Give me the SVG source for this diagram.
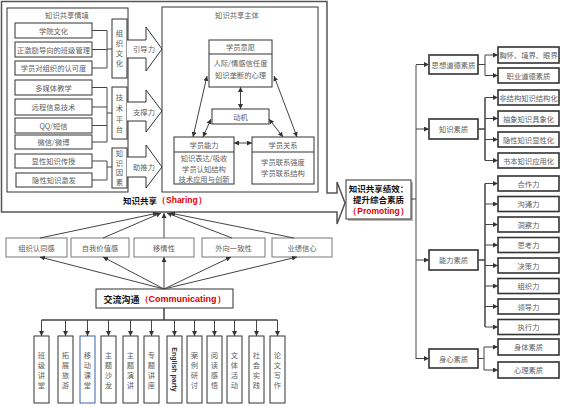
<svg xmlns="http://www.w3.org/2000/svg" width="562" height="407" viewBox="0 0 562 407">
<style>
text{font-family:"Noto Sans CJK SC","Liberation Serif",serif;font-size:7.3px;fill:#606060;text-anchor:middle;dominant-baseline:central}
.b{fill:#fff;stroke:#333;stroke-width:1}
.g{fill:#fff;stroke:#777;stroke-width:1}
.t{fill:#fff;stroke:#333;stroke-width:1.6}
.c{fill:none;stroke:#444;stroke-width:1}
.bold{font-weight:bold;fill:#111;font-size:8.5px}
.red{fill:#e00000;font-family:"Liberation Sans",sans-serif;font-weight:bold}
</style>
<defs>
<marker id="ah" viewBox="0 0 10 10" refX="10" refY="5" markerWidth="5" markerHeight="5" orient="auto-start-reverse"><path d="M0,0 L10,5 L0,10 z" fill="#333"/></marker>
</defs>
<rect width="562" height="407" fill="#fff"/>

<g id="sharing">
<path d="M1.5,1.5 H327 V193 H337 V182 L345,203 L337,224 V212 H1.5 Z" fill="#fff" stroke="#555" stroke-width="1.5"/>
<text x="123" y="200" class="bold" style="text-anchor:start">知识共享<tspan class="red">（Sharing）</tspan></text>
</g>

<g id="situation">
<rect x="7" y="8" width="121" height="184" class="b"/>
<text x="67" y="15">知识共享情境</text>
</g>
<g id="items">
<rect x="15" y="23" width="77" height="15" class="b"/><text x="53.5" y="30.5">学院文化</text>
<rect x="15" y="42" width="77" height="15" class="b"/><text x="53.5" y="49.5">正激励导向的班级管理</text>
<rect x="15" y="61" width="77" height="14" class="b"/><text x="53.5" y="68">学员对组织的认可度</text>
<rect x="15" y="80" width="77" height="15" class="b"/><text x="53.5" y="87.5">多媒体教学</text>
<rect x="15" y="99" width="77" height="16" class="b"/><text x="53.5" y="107">远程信息技术</text>
<rect x="15" y="118" width="77" height="15" class="b"/><text x="53.5" y="125.5">QQ/短信</text>
<rect x="15" y="135" width="77" height="14" class="b"/><text x="53.5" y="142">微信/微博</text>
<rect x="15" y="154" width="77" height="14" class="b"/><text x="53.5" y="161">显性知识传授</text>
<rect x="16" y="173" width="76" height="14" class="b"/><text x="54" y="180">隐性知识激发</text>
</g>
<g id="vboxes">
<rect x="112" y="19" width="15" height="59" class="b"/>
<text x="119.5" y="33">组</text><text x="119.5" y="43">织</text><text x="119.5" y="53">文</text><text x="119.5" y="63">化</text>
<rect x="112" y="87" width="15" height="52" class="b"/>
<text x="119.5" y="97">技</text><text x="119.5" y="108">术</text><text x="119.5" y="119">平</text><text x="119.5" y="129">台</text>
<rect x="112" y="148" width="15" height="40" class="b"/>
<text x="119.5" y="153">知</text><text x="119.5" y="162.5">识</text><text x="119.5" y="172">因</text><text x="119.5" y="181.5">素</text>
</g>
<g id="bigarrows">
<path d="M127,40 H146 V27 L162,49 L146,71 V58 H127" class="b"/>
<text x="144" y="49">引导力</text>
<path d="M127,102 H146 V90 L162,111 L146,132 V121 H127" class="b"/>
<text x="144" y="111.5">支撑力</text>
<path d="M127,157 H146 V145 L162,167 L146,188 V177 H127" class="b"/>
<text x="144" y="167">助推力</text>
</g>

<g id="subject">
<rect x="162" y="7" width="156" height="185" class="b"/>
<text x="237" y="15">知识共享主体</text>
</g>
<g id="willing">
<rect x="209" y="40" width="63" height="47" class="b"/>
<line x1="209" y1="54" x2="272" y2="54" stroke="#333"/>
<text x="240.5" y="47">学员意愿</text>
<text x="240.5" y="63">人际/情感信任度</text>
<text x="240.5" y="75">知识垄断的心理</text>
</g>
<g id="motive">
<rect x="212" y="109" width="57" height="15" class="b"/>
<text x="240.5" y="116.5">动机</text>
</g>
<g id="ability">
<rect x="174" y="137" width="60" height="47" class="b"/>
<line x1="174" y1="152" x2="234" y2="152" stroke="#333"/>
<text x="204" y="144.5">学员能力</text>
<text x="204" y="157.5">知识表达/吸收</text>
<text x="204" y="168.5">学员认知结构</text>
<text x="204" y="179">技术应用与创新</text>
</g>
<g id="relation">
<rect x="252" y="137" width="62" height="47" class="b"/>
<line x1="252" y1="152" x2="314" y2="152" stroke="#333"/>
<text x="283" y="144.5">学员关系</text>
<text x="283" y="162">学员联系强度</text>
<text x="283" y="172.5">学员联系结构</text>
</g>

<g id="promoting">
<rect x="348" y="182" width="65" height="39" fill="#bbb"/>
<rect x="346" y="180" width="65" height="39" class="b"/>
<text x="378.5" y="188" class="bold">知识共享绩效：</text>
<text x="378.5" y="199" class="bold">提升综合素质</text>
<text x="378.5" y="211" class="red" style="font-size:8.5px">（Promoting）</text>
</g>

<g id="tree-l1">
<rect x="429" y="55" width="49" height="19" class="t"/><text x="453.5" y="64.5">思想道德素质</text>
<rect x="429" y="119" width="49" height="20" class="t"/><text x="453.5" y="129">知识素质</text>
<rect x="429" y="250" width="49" height="20" class="t"/><text x="453.5" y="260">能力素质</text>
<rect x="429" y="349" width="49" height="19" class="t"/><text x="453.5" y="358.5">身心素质</text>
</g>
<g id="tree-l2">
<rect x="498" y="47" width="61" height="16" class="t"/><text x="528.5" y="55">胸怀、境界、眼界</text>
<rect x="498" y="68" width="61" height="15" class="t"/><text x="528.5" y="75.5">职业道德素质</text>
<rect x="498" y="90" width="61" height="15" class="t"/><text x="528.5" y="97.5">非结构知识结构化</text>
<rect x="498" y="111" width="61" height="15" class="t"/><text x="528.5" y="118.5">抽象知识具象化</text>
<rect x="498" y="132" width="61" height="15" class="t"/><text x="528.5" y="139.5">隐性知识显性化</text>
<rect x="498" y="153" width="61" height="15" class="t"/><text x="528.5" y="160.5">书本知识应用化</text>
<rect x="498" y="176" width="61" height="15" class="t"/><text x="528.5" y="183.5">合作力</text>
<rect x="498" y="196.5" width="61" height="15" class="t"/><text x="528.5" y="204">沟通力</text>
<rect x="498" y="217" width="61" height="15" class="t"/><text x="528.5" y="224.5">洞察力</text>
<rect x="498" y="237.5" width="61" height="15" class="t"/><text x="528.5" y="245">思考力</text>
<rect x="498" y="258" width="61" height="15" class="t"/><text x="528.5" y="265.5">决策力</text>
<rect x="498" y="278.5" width="61" height="15" class="t"/><text x="528.5" y="286">组织力</text>
<rect x="498" y="299" width="61" height="15" class="t"/><text x="528.5" y="306.5">领导力</text>
<rect x="498" y="319.5" width="61" height="15" class="t"/><text x="528.5" y="327">执行力</text>
<rect x="498" y="339" width="61" height="16" class="t"/><text x="528.5" y="347">身体素质</text>
<rect x="498" y="362" width="61" height="16" class="t"/><text x="528.5" y="370">心理素质</text>
</g>

<g id="band">
<rect x="6" y="238" width="61" height="19" class="g"/><text x="36.5" y="247.5">组织认同感</text>
<rect x="71" y="238" width="58" height="19" class="g"/><text x="100" y="247.5">自我价值感</text>
<rect x="134" y="238" width="60" height="19" class="g"/><text x="164" y="247.5">移情性</text>
<rect x="202" y="238" width="63" height="19" class="g"/><text x="233.5" y="247.5">外向一致性</text>
<rect x="272" y="238" width="60" height="19" class="g"/><text x="302" y="247.5">业绩信心</text>
</g>
<g id="communicating">
<rect x="96" y="289" width="137" height="19" class="b"/>
<text x="164.5" y="299" class="bold" style="font-size:9px">交流沟通<tspan class="red" style="font-size:9px">（Communicating）</tspan></text>
</g>

<g id="activities">
<rect x="34" y="336" width="15" height="67" class="b"/><text x="41.5" y="355">班</text><text x="41.5" y="365">级</text><text x="41.5" y="375">讲</text><text x="41.5" y="385">堂</text>
<rect x="58" y="336" width="15" height="67" class="b"/><text x="65.5" y="355">拓</text><text x="65.5" y="365">展</text><text x="65.5" y="375">旅</text><text x="65.5" y="385">游</text>
<rect x="80" y="336" width="15" height="67" fill="#fff" stroke="#3a62a8" stroke-width="1"/><text x="87.5" y="355">移</text><text x="87.5" y="365">动</text><text x="87.5" y="375">课</text><text x="87.5" y="385">堂</text>
<rect x="101" y="336" width="15" height="67" class="b"/><text x="108.5" y="355">主</text><text x="108.5" y="365">题</text><text x="108.5" y="375">沙</text><text x="108.5" y="385">龙</text>
<rect x="123" y="336" width="15" height="67" class="b"/><text x="130.5" y="355">主</text><text x="130.5" y="365">题</text><text x="130.5" y="375">演</text><text x="130.5" y="385">讲</text>
<rect x="144" y="336" width="15" height="67" class="b"/><text x="151.5" y="355">专</text><text x="151.5" y="365">题</text><text x="151.5" y="375">讲</text><text x="151.5" y="385">座</text>
<rect x="167" y="336" width="15" height="67" class="b"/><text x="0" y="0" transform="translate(174.5,369.5) rotate(90)" style="font-family:'Liberation Sans',sans-serif;font-weight:bold;font-size:7px;fill:#333">English party</text>
<rect x="187" y="336" width="15" height="67" class="b"/><text x="194.5" y="355">案</text><text x="194.5" y="365">例</text><text x="194.5" y="375">研</text><text x="194.5" y="385">讨</text>
<rect x="207" y="336" width="15" height="67" class="b"/><text x="214.5" y="355">阅</text><text x="214.5" y="365">读</text><text x="214.5" y="375">感</text><text x="214.5" y="385">悟</text>
<rect x="227" y="336" width="15" height="67" class="b"/><text x="234.5" y="355">文</text><text x="234.5" y="365">体</text><text x="234.5" y="375">活</text><text x="234.5" y="385">动</text>
<rect x="249" y="336" width="15" height="67" class="b"/><text x="256.5" y="355">社</text><text x="256.5" y="365">会</text><text x="256.5" y="375">实</text><text x="256.5" y="385">践</text>
<rect x="270" y="336" width="15" height="67" class="b"/><text x="277.5" y="355">论</text><text x="277.5" y="365">文</text><text x="277.5" y="375">写</text><text x="277.5" y="385">作</text>
</g>

<g id="connectors" class="c" fill="none" stroke="#444">
<path d="M92,30.5 H107 M92,49.5 H107 M92,68 H107 M107,30.5 V68 M107,49 H112"/>
<path d="M92,87.5 H107 M92,107 H107 M92,125.5 H107 M92,142 H107 M107,87.5 V142 M107,113 H112"/>
<path d="M92,161 H107 M92,180 H107 M107,161 V180 M107,167 H112"/>
<line x1="240.5" y1="87" x2="240.5" y2="109" marker-start="url(#ah)" marker-end="url(#ah)"/>
<line x1="193" y1="137" x2="207" y2="76" marker-start="url(#ah)" marker-end="url(#ah)"/>
<line x1="297" y1="137" x2="274" y2="76" marker-start="url(#ah)" marker-end="url(#ah)"/>
<line x1="211" y1="119" x2="203" y2="137" marker-start="url(#ah)" marker-end="url(#ah)"/>
<line x1="269" y1="119" x2="283" y2="137" marker-start="url(#ah)" marker-end="url(#ah)"/>
<line x1="234" y1="143" x2="252" y2="143" marker-start="url(#ah)" marker-end="url(#ah)"/>
<path d="M411,199 H416 M416,65 V359"/>
<line x1="416" y1="64.5" x2="429" y2="64.5" marker-end="url(#ah)"/>
<line x1="416" y1="129" x2="429" y2="129" marker-end="url(#ah)"/>
<line x1="416" y1="260" x2="429" y2="260" marker-end="url(#ah)"/>
<line x1="416" y1="358.5" x2="429" y2="358.5" marker-end="url(#ah)"/>
<path d="M478,64.5 H485 M485,55 V75.5"/>
<line x1="485" y1="55" x2="498" y2="55" marker-end="url(#ah)"/>
<line x1="485" y1="75.5" x2="498" y2="75.5" marker-end="url(#ah)"/>
<path d="M478,129 H485 M485,97.5 V160.5" stroke-width="1.5"/>
<line x1="485" y1="97.5" x2="498" y2="97.5" marker-end="url(#ah)"/>
<line x1="485" y1="118.5" x2="498" y2="118.5" marker-end="url(#ah)"/>
<line x1="485" y1="139.5" x2="498" y2="139.5" marker-end="url(#ah)"/>
<line x1="485" y1="160.5" x2="498" y2="160.5" marker-end="url(#ah)"/>
<path d="M478,260 H485 M485,183.5 V327" stroke-width="1.5"/>
<line x1="485" y1="183.5" x2="498" y2="183.5" marker-end="url(#ah)"/>
<line x1="485" y1="204" x2="498" y2="204" marker-end="url(#ah)"/>
<line x1="485" y1="224.5" x2="498" y2="224.5" marker-end="url(#ah)"/>
<line x1="485" y1="245" x2="498" y2="245" marker-end="url(#ah)"/>
<line x1="485" y1="265.5" x2="498" y2="265.5" marker-end="url(#ah)"/>
<line x1="485" y1="286" x2="498" y2="286" marker-end="url(#ah)"/>
<line x1="485" y1="306.5" x2="498" y2="306.5" marker-end="url(#ah)"/>
<line x1="485" y1="327" x2="498" y2="327" marker-end="url(#ah)"/>
<path d="M478,358.5 H484 M484,347 V370"/>
<line x1="484" y1="347" x2="498" y2="347" marker-end="url(#ah)"/>
<line x1="484" y1="370" x2="498" y2="370" marker-end="url(#ah)"/>
<line x1="40" y1="238" x2="158" y2="213" marker-end="url(#ah)"/>
<line x1="103" y1="238" x2="161" y2="213" marker-end="url(#ah)"/>
<line x1="164" y1="238" x2="164" y2="213" marker-end="url(#ah)"/>
<line x1="232" y1="238" x2="167" y2="213" marker-end="url(#ah)"/>
<line x1="294" y1="238" x2="170" y2="213" marker-end="url(#ah)"/>
<line x1="164" y1="289" x2="40" y2="257" marker-end="url(#ah)"/>
<line x1="164" y1="289" x2="103" y2="257" marker-end="url(#ah)"/>
<line x1="164" y1="289" x2="164" y2="257" marker-end="url(#ah)"/>
<line x1="164" y1="289" x2="231" y2="257" marker-end="url(#ah)"/>
<line x1="164" y1="289" x2="297" y2="257" marker-end="url(#ah)"/>
<path d="M164,308 V320 M41.5,320 H277.5" stroke-width="1.5"/>
<line x1="41.5" y1="320" x2="41.5" y2="336" marker-end="url(#ah)"/>
<line x1="65.5" y1="320" x2="65.5" y2="336" marker-end="url(#ah)"/>
<line x1="87.5" y1="320" x2="87.5" y2="336" marker-end="url(#ah)"/>
<line x1="108.5" y1="320" x2="108.5" y2="336" marker-end="url(#ah)"/>
<line x1="130.5" y1="320" x2="130.5" y2="336" marker-end="url(#ah)"/>
<line x1="151.5" y1="320" x2="151.5" y2="336" marker-end="url(#ah)"/>
<line x1="174.5" y1="320" x2="174.5" y2="336" marker-end="url(#ah)"/>
<line x1="194.5" y1="320" x2="194.5" y2="336" marker-end="url(#ah)"/>
<line x1="214.5" y1="320" x2="214.5" y2="336" marker-end="url(#ah)"/>
<line x1="234.5" y1="320" x2="234.5" y2="336" marker-end="url(#ah)"/>
<line x1="256.5" y1="320" x2="256.5" y2="336" marker-end="url(#ah)"/>
<line x1="277.5" y1="320" x2="277.5" y2="336" marker-end="url(#ah)"/>
</g>
</svg>
